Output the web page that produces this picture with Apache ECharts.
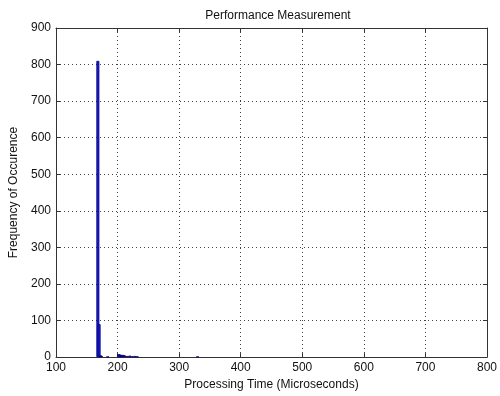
<!DOCTYPE html>
<html lang="en">
<head>
  <meta charset="UTF-8">
  <title>Performance Measurement</title>
  <style>
    html, body { margin: 0; padding: 0; background: #fff; }
  </style>
</head>
<body>
  <div id="main" style="width: 500px; height: 396px"></div>
  <script src="https://cdn.jsdelivr.net/npm/echarts@6/dist/echarts.min.js"></script>
  <script>
    // histogram bins (microseconds) and counts
    const binCenters = [168, 170, 172, 174, 184, 202, 204, 206, 208, 210, 212, 216, 220, 224, 228, 232, 330];
    const binCounts  = [810, 90,  5,   3,   1,   8,   7,   5,   6,   5,   4,   3,   4,   2,   3,   2,   1];
    const xTicks = [100, 200, 300, 400, 500, 600, 700, 800];
    const yTicks = [0, 100, 200, 300, 400, 500, 600, 700, 800, 900];

    const axisColor = '#333';
    const font = 'Liberation Sans, Arial, sans-serif';

    let myChart = echarts.init(document.getElementById('main'));

    const baseX = {
      type: 'value',
      min: xTicks[0],
      max: xTicks[xTicks.length - 1],
      interval: 100,
      axisLine: { show: true, onZero: false, lineStyle: { color: axisColor, width: 1 } },
      axisTick: { show: true, inside: true, length: 4, lineStyle: { color: axisColor } },
      splitLine: { show: false }
    };
    const baseY = {
      type: 'value',
      min: yTicks[0],
      max: yTicks[yTicks.length - 1],
      interval: 100,
      axisLine: { show: true, onZero: false, lineStyle: { color: axisColor, width: 1 } },
      axisTick: { show: true, inside: true, length: 4, lineStyle: { color: axisColor } },
      splitLine: { show: false }
    };

    let option = {
      animation: false,
      backgroundColor: '#fff',
      title: {
        text: 'Performance Measurement',
        left: 273,
        textAlign: 'center',
        top: 5,
        textStyle: { fontFamily: font, fontSize: 12, fontWeight: 'normal', color: '#111' }
      },
      grid: { left: 56, right: 10, top: 28, bottom: 35 },
      xAxis: [
        Object.assign({}, baseX, {
          position: 'bottom',
          name: 'Processing Time (Microseconds)',
          nameLocation: 'middle',
          nameGap: 21,
          nameTextStyle: { fontFamily: font, fontSize: 12, color: '#111' },
          axisLabel: { fontFamily: font, fontSize: 12, color: '#111', margin: 5 },
          splitLine: { show: true, lineStyle: { color: '#444', type: [1, 3] } }
        }),
        Object.assign({}, baseX, {
          position: 'top',
          axisLabel: { show: false }
        })
      ],
      yAxis: [
        Object.assign({}, baseY, {
          position: 'left',
          name: 'Frequency of Occurence',
          nameLocation: 'middle',
          nameGap: 31,
          nameTextStyle: { fontFamily: font, fontSize: 12, color: '#111' },
          axisLabel: { fontFamily: font, fontSize: 12, color: '#111', margin: 5 },
          splitLine: { show: true, lineStyle: { color: '#444', type: [1, 3] } }
        }),
        Object.assign({}, baseY, {
          position: 'right',
          axisLabel: { show: false }
        })
      ],
      series: [
        {
          name: 'hist',
          type: 'bar',
          xAxisIndex: 0,
          yAxisIndex: 0,
          barWidth: 3,
          data: binCenters.map((c, i) => [c, binCounts[i]]),
          itemStyle: { color: '#1a1ad8', borderColor: '#00007a', borderWidth: 0.8 }
        }
      ]
    };
    myChart.setOption(option);
  </script>
</body>
</html>
